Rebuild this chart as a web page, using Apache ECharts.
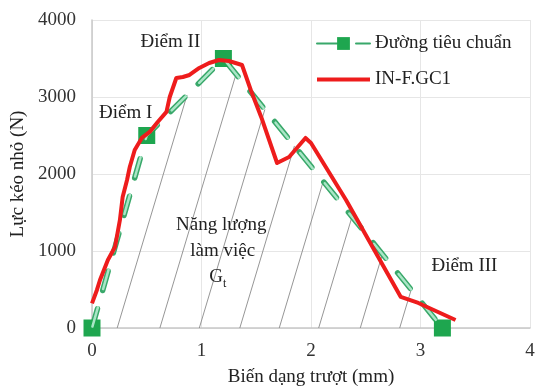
<!DOCTYPE html>
<html>
<head>
<meta charset="utf-8">
<script src="https://cdn.jsdelivr.net/npm/echarts@6/dist/echarts.min.js"></script>
<style>
  html, body { margin: 0; padding: 0; background: #fff; }
  #main { width: 535px; height: 388px; }
</style>
</head>
<body>
<div id="main"></div>
<script>
// đường tiêu chuẩn (điểm 0, I, II, III)
var stdX = [0, 0.5, 1.2, 3.2];
var stdY = [0, 2500, 3500, 0];
var stdNames = ['', 'Điểm I', 'Điểm II', 'Điểm III'];

// đường thực nghiệm IN-F.GC1
var testX = [0.0, 0.045, 0.073, 0.145, 0.21, 0.255, 0.28, 0.32, 0.345, 0.39, 0.455, 0.527, 0.6, 0.68, 0.71, 0.77, 0.83, 0.89, 0.98, 1.07, 1.16, 1.25, 1.37, 1.45, 1.545, 1.69, 1.8, 1.95, 2.0, 2.32, 2.82, 2.98, 3.32];
var testY = [320, 494, 623, 883, 1052, 1403, 1701, 1922, 2091, 2312, 2468, 2546, 2676, 2806, 3000, 3247, 3260, 3286, 3377, 3442, 3481, 3468, 3416, 3091, 2741, 2143, 2221, 2468, 2403, 1663, 403, 325, 104];

// chân các đường gạch chéo (trên trục x)
var hatchX = [0.23, 0.62, 0.98, 1.35, 1.71, 2.07, 2.45, 2.81];

var font = 'Liberation Serif';

var stdData = stdX.map(function (x, i) { return { value: [x, stdY[i]], name: stdNames[i] }; });
var testData = testX.map(function (x, i) { return [x, testY[i]]; });
var hatchData = hatchX.map(function (x) { return [x, 0]; });

// vị trí nhãn các điểm
var labelOffsets = [[0, 0], [-21, -22], [-53, -16], [22, -62]];
stdData.forEach(function (d, i) {
    d.label = { show: i > 0, formatter: '{b}', offset: labelOffsets[i], position: 'inside',
        fontFamily: font, fontSize: 19, color: '#222' };
});

var chart = echarts.init(document.getElementById('main'));

function hatchItem(params, api) {
    var p0 = api.coord([api.value(0), 0]);
    var d = [0.30, -1];
    var pts = stdX.map(function (x, i) { return api.coord([x, stdY[i]]); });
    var best = null;
    for (var i = 0; i < pts.length - 1; i++) {
        var a = pts[i], b = pts[i + 1];
        var e = [b[0] - a[0], b[1] - a[1]];
        var den = d[0] * e[1] - d[1] * e[0];
        if (Math.abs(den) < 1e-9) continue;
        var w = [a[0] - p0[0], a[1] - p0[1]];
        var s = (w[0] * e[1] - w[1] * e[0]) / den;
        var u = (w[0] * d[1] - w[1] * d[0]) / den;
        if (s > 1 && u >= 0 && u <= 1 && (best === null || s < best)) best = s;
    }
    if (best === null) return;
    return {
        type: 'line',
        shape: { x1: p0[0], y1: p0[1], x2: p0[0] + d[0] * best, y2: p0[1] + d[1] * best },
        style: { stroke: '#8a8a8a', lineWidth: 0.9 }
    };
}

chart.setOption({
    animation: false,
    grid: { left: 92, right: 5, top: 20, bottom: 60, outerBoundsMode: 'none' },
    legend: {
        orient: 'vertical',
        left: 310, top: 29,
        itemWidth: 53, itemHeight: 16, itemGap: 17,
        textStyle: { fontFamily: font, fontSize: 19, color: '#222' },
        data: [
            'Đường tiêu chuẩn',
            { name: 'IN-F.GC1', itemStyle: { opacity: 0 }, lineStyle: { width: 4, color: '#ee1c1c' } }
        ]
    },
    xAxis: {
        type: 'value', min: 0, max: 4, interval: 1,
        name: 'Biến dạng trượt (mm)', nameLocation: 'middle', nameGap: 40,
        nameTextStyle: { fontFamily: font, fontSize: 19, color: '#222' },
        axisLine: { show: true, lineStyle: { color: '#c8c8c8', width: 1.5 } },
        axisTick: { show: false },
        axisLabel: { fontFamily: font, fontSize: 19, color: '#333', margin: 14 },
        splitLine: { show: true, lineStyle: { color: '#e6e6e6' } }
    },
    yAxis: {
        type: 'value', min: 0, max: 4000, interval: 1000,
        name: 'Lực kéo nhỏ (N)', nameLocation: 'middle', nameGap: 57,
        nameTextStyle: { fontFamily: font, fontSize: 19, color: '#222' },
        axisLine: { show: true, lineStyle: { color: '#c8c8c8', width: 1.5 } },
        axisTick: { show: false },
        axisLabel: { fontFamily: font, fontSize: 19, color: '#333', margin: 16,
            formatter: function (v) { return String(v); } },
        splitLine: { show: true, lineStyle: { color: '#e6e6e6' } }
    },
    graphic: [{
        type: 'text', left: 176, top: 212, z: 10,
        style: {
            text: 'Năng lượng\n{s|   làm việc}\n{s|       G}{sub|t}',
            fontFamily: font, fontSize: 19, fill: '#222', lineHeight: 26,
            rich: {
                s: { fontFamily: font, fontSize: 19, fill: '#222' },
                sub: { fontFamily: font, fontSize: 12, fill: '#222', verticalAlign: 'bottom', padding: [10, 0, 0, 0] }
            }
        }
    }],
    series: [
        {
            type: 'custom', name: 'hatch', silent: true, z: 1,
            renderItem: hatchItem, data: hatchData, encode: { x: 0, y: 1 }
        },
        {
            type: 'line', name: 'Đường tiêu chuẩn', z: 2,
            data: stdData,
            symbol: 'rect', symbolSize: 17, showAllSymbol: true,
            itemStyle: { color: '#1ea64f' },
            lineStyle: { color: '#39a86a', width: 5.5, type: [20, 19], cap: 'round' }
        },
        {
            type: 'line', name: 'inner', z: 3, silent: true,
            data: stdData.map(function (d) { return d.value; }),
            symbol: 'none',
            lineStyle: { color: '#a9e6c6', width: 2.5, type: [20, 19], dashOffset: -1.5, cap: 'round' }
        },
        {
            type: 'line', name: 'IN-F.GC1', z: 5,
            data: testData, symbol: 'none',
            itemStyle: { color: '#ee1c1c' },
            lineStyle: { color: '#ee1c1c', width: 4, join: 'round' }
        }
    ]
});
</script>
</body>
</html>
